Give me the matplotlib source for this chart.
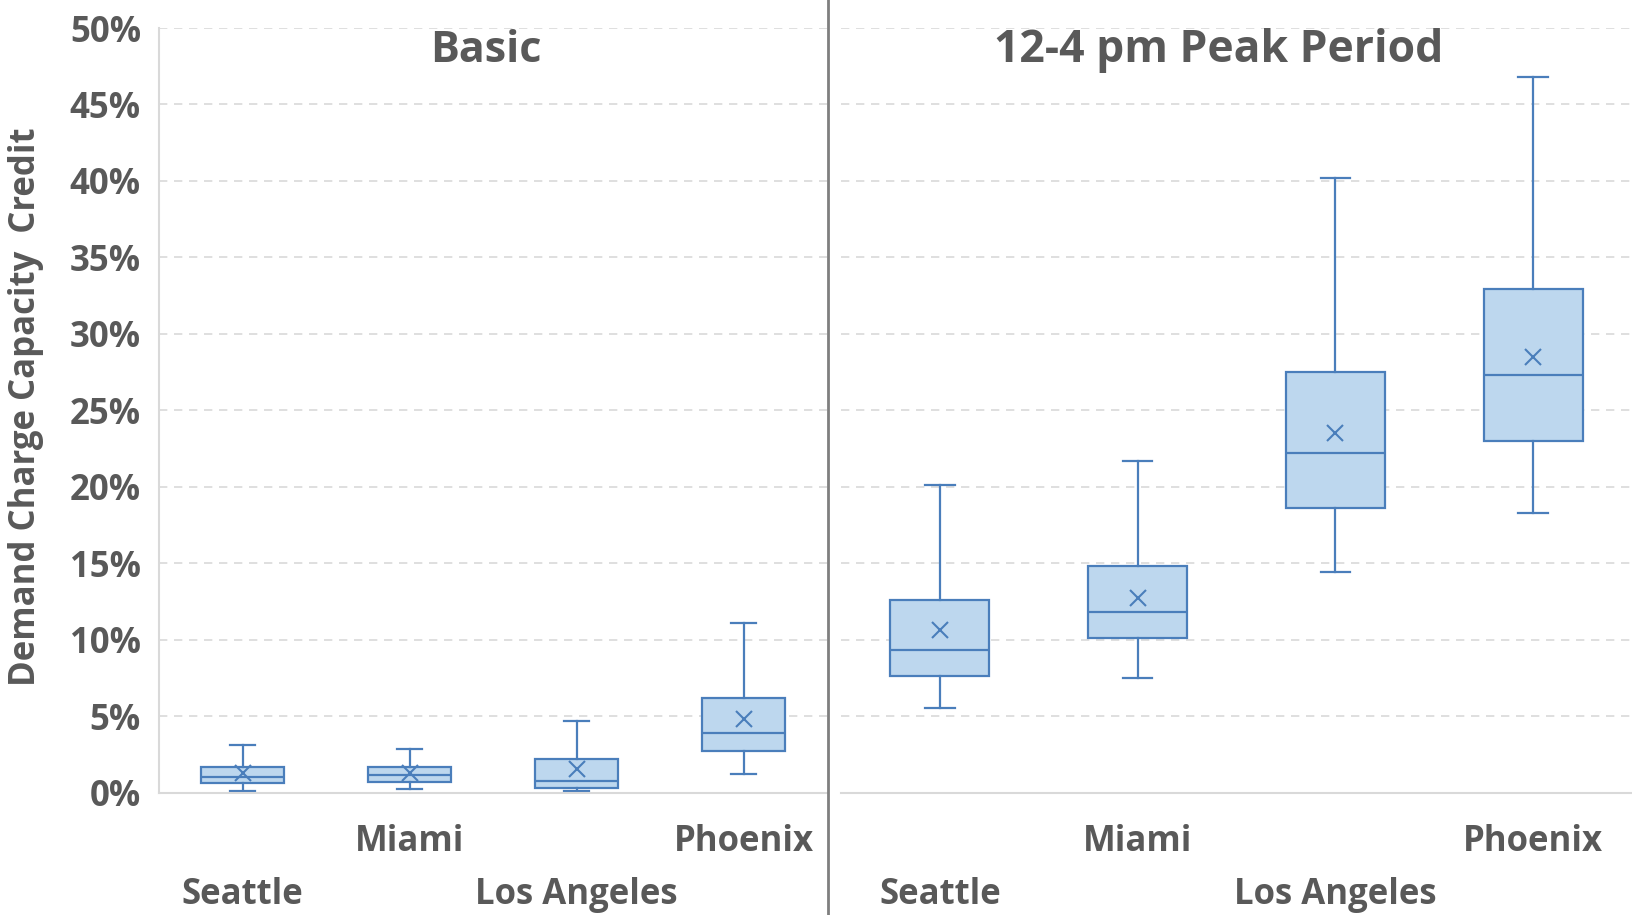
import matplotlib
matplotlib.use('Agg')
import matplotlib.pyplot as plt
from matplotlib.lines import Line2D
from matplotlib.ticker import PercentFormatter

# values, in %
cities = ['Seattle', 'Miami', 'Los Angeles', 'Phoenix']
panels = ['Basic', '12-4 pm Peak Period']

basic_low = [0.1, 0.2, 0.1, 1.2]
basic_q1 = [0.6, 0.7, 0.3, 2.7]
basic_med = [1.0, 1.15, 0.75, 3.9]
basic_q3 = [1.7, 1.7, 2.2, 6.15]
basic_high = [3.1, 2.85, 4.7, 11.1]
basic_mean = [1.3, 1.25, 1.55, 4.8]

peak_low = [5.5, 7.5, 14.4, 18.3]
peak_q1 = [7.6, 10.1, 18.6, 23.0]
peak_med = [9.3, 11.8, 22.2, 27.3]
peak_q3 = [12.6, 14.8, 27.5, 32.9]
peak_high = [20.1, 21.7, 40.2, 46.8]
peak_mean = [10.6, 12.7, 23.5, 28.5]

edge = '#4a7ebb'
face = '#bdd7ee'
txt = '#595959'
grid = '#d9d9d9'

plt.rcParams['font.family'] = ['Open Sans', 'DejaVu Sans']
plt.rcParams['font.weight'] = 'bold'


def stats(low, q1, med, q3, high, mean):
    out = []
    for i in range(len(cities)):
        out.append({'whislo': low[i], 'q1': q1[i], 'med': med[i], 'q3': q3[i],
                    'whishi': high[i], 'mean': mean[i], 'fliers': []})
    return out


fig = plt.figure(figsize=(16.32, 9.15), dpi=100)
W, H = 1632, 915
bottom = (H - 792.5) / H
height = (792.5 - 28) / H
ax1 = fig.add_axes([159 / W, bottom, (827 - 159) / W, height])
ax2 = fig.add_axes([841 / W, bottom, (1632 - 841) / W, height])

data = [stats(basic_low, basic_q1, basic_med, basic_q3, basic_high, basic_mean),
        stats(peak_low, peak_q1, peak_med, peak_q3, peak_high, peak_mean)]
title_x = [0.49, 0.477]
title_size = [31, 32]

for ax, st, title, tx, ts in zip([ax1, ax2], data, panels, title_x, title_size):
    pos = range(len(cities))
    ax.bxp(st, positions=pos, widths=0.5, capwidths=0.15, showmeans=True,
           showfliers=False, patch_artist=True,
           boxprops=dict(facecolor=face, edgecolor=edge, linewidth=1.6),
           medianprops=dict(color=edge, linewidth=1.6),
           whiskerprops=dict(color=edge, linewidth=1.6),
           capprops=dict(color=edge, linewidth=1.6),
           meanprops=dict(marker='x', markeredgecolor=edge, markersize=11,
                          markeredgewidth=1.5))
    ax.set_ylim(0, 50)
    ax.set_xlim(-0.5, 3.5)
    ax.set_yticks(range(0, 51, 5))
    ax.yaxis.set_major_formatter(PercentFormatter(decimals=0))
    ax.grid(axis='y', linestyle=(0, (5, 4)), color=grid, linewidth=1.2)
    ax.set_axisbelow(True)
    for s in ['top', 'right']:
        ax.spines[s].set_visible(False)
    ax.spines['bottom'].set_color(grid)
    ax.spines['bottom'].set_linewidth(1.5)
    ax.spines['left'].set_color(grid)
    ax.spines['left'].set_linewidth(1.5)
    ax.set_xticks(list(pos))
    ax.set_xticklabels(cities, fontsize=25, color=txt, fontweight='bold')
    ax.tick_params(length=0)
    for i, tick in enumerate(ax.xaxis.get_major_ticks()):
        tick.set_pad(61 if i % 2 == 0 else 23)
    ax.text(tx, 0.97, title, transform=ax.transAxes, ha='center', va='center',
            fontsize=ts, color=txt, fontweight='bold')

ax1.tick_params(axis='y', labelsize=25, labelcolor=txt, pad=13)
for lbl in ax1.get_yticklabels():
    lbl.set_fontweight('bold')
ax1.set_ylabel('Demand Charge Capacity  Credit', fontsize=25, color=txt,
               fontweight='bold')
ax1.yaxis.set_label_coords(-0.172, 0.505)

ax2.spines['left'].set_visible(False)
ax2.tick_params(axis='y', labelleft=False)

# divider between the two panels
fig.add_artist(Line2D([828 / W, 828 / W], [0, 1], transform=fig.transFigure,
                      color='#7f7f7f', linewidth=2))

fig.savefig('out.png', dpi=100)
